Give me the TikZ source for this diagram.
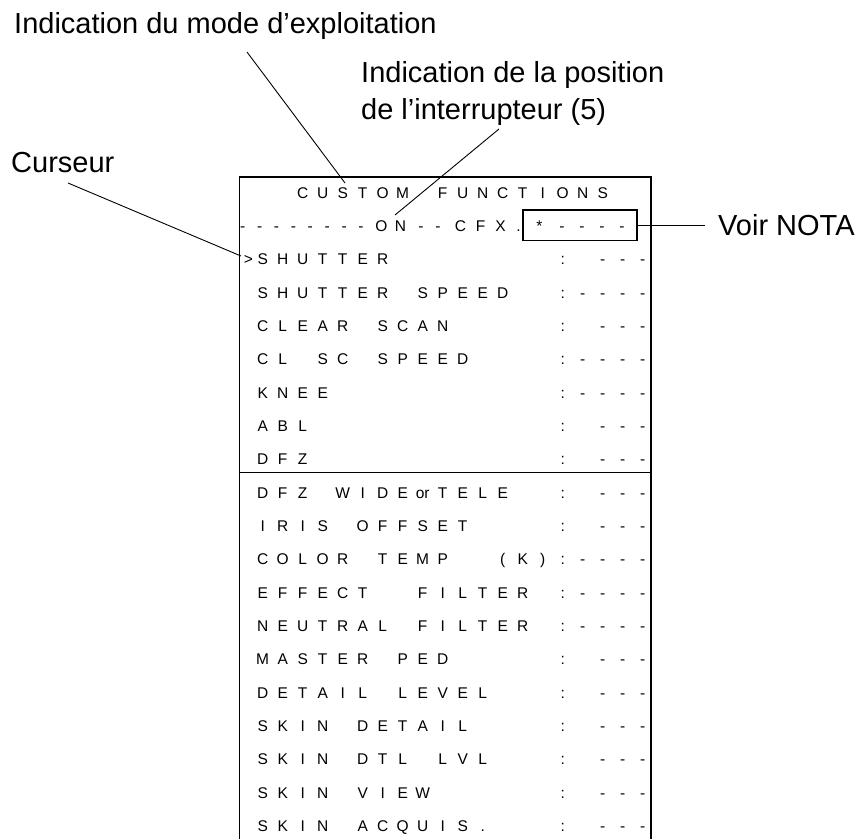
\documentclass[tikz,border=0pt]{standalone}
\usepackage{fontspec}
\setmainfont{Liberation Sans}
\def\cellw{20pt}
\def\cells#1{\cellsi#1\relax}
\def\cellsi#1{\ifx#1\relax\else\makebox[\cellw][c]{\cellchar#1}\expandafter\cellsi\fi}
\def\cellchar#1{\ifx#1_\else#1\fi}
\def\cellsx#1{\expandafter\cells\expandafter{#1}}
\def\OR{or}
\tikzset{
  lab/.style={font=\fontsize{29}{34}\selectfont, inner sep=0pt},
  menu/.style={font=\fontsize{15.5}{18}\selectfont, inner sep=0pt, anchor=base west},
  leader/.style={line width=0.9pt},
  frame/.style={line width=1.6pt},
}
\begin{document}
\begin{tikzpicture}[x=1pt,y=-1pt]
\useasboundingbox (0,0) rectangle (861,839);
% frame of the display
\draw[frame] (239.5,839) -- (239.5,177) -- (651,177) -- (651,839);
\draw[frame] (239.5,472.5) -- (651,472.5);
% title row
\node[menu] (title) at (232.5,198.3) {\cells{___CUSTOM_FUNCTIONS}};
% ON row
\foreach \x/\c [count=\i] in {242.7/-,259.6/-,276.5/-,293.4/-,310.3/-,327.2/-,344.1/-,361/-,
   381.5/O,400.5/N,421/-,438/-,460.5/C,480.5/F,500.5/X,518.5/.,539.5/*,562/-,582/-,602/-,622/-}
  \node[menu, anchor=base] (on\i) at (\x,231.6) {\c};
% NOTA box
\node[draw, line width=1.6pt, minimum width=114pt, minimum height=30.7pt, inner sep=0pt] (notabox) at (579.7,225.3) {};
% rows
\node[menu, anchor=base] (cursor) at (248.5,264.9) {>};
\foreach \k/\L/\R in {2/SHUTTER/:_---, 3/SHUTTER_SPEED/:----, 4/CLEAR_SCAN/:_---,
   5/CL_SC_SPEED/:----, 6/KNEE/:----, 7/ABL/:_---, 8/DFZ/:_---,
   9/DFZ_WIDE\OR TELE/:_---, 10/IRIS_OFFSET/:_---, 11/COLOR_TEMP__(K)/:----,
   12/EFFECT__FILTER/:----, 13/NEUTRAL_FILTER/:----, 14/MASTER_PED/:_---,
   15/DETAIL_LEVEL/:_---, 16/SKIN_DETAIL/:_---, 17/SKIN_DTL_LVL/:_---,
   18/SKIN_VIEW/:_---, 19/SKIN_ACQUIS./:_---}
{
  \pgfmathsetmacro\yb{192.7+33.33*\k+5.6}
  \node[menu] (L\k) at (252.5,\yb) {\cellsx{\L}};
  \node[menu] (R\k) at (552.5,\yb) {\cellsx{\R}};
}
% labels
\node[lab, anchor=base west] (mode) at (14,33) {Indication du mode d’exploitation};
\node[lab, anchor=base west] (pos1) at (361,82) {Indication de la position};
\node[lab, anchor=base west] (pos2) at (361,119) {de l’interrupteur (5)};
\node[lab, anchor=base west] (curs) at (11,172) {Curseur};
\node[lab, anchor=west, inner xsep=13pt] (voir) at (705,225.3) {Voir NOTA};
% leaders
\coordinate (mA) at (247,52);
\coordinate (mB) at (345,183);
\coordinate (pA) at (499,129);
\coordinate (pB) at (395,215);
\coordinate (cA) at (68,183);
\coordinate (cB) at (241,256);
\draw[leader] (mA) -- (mB);
\draw[leader] (pA) -- (pB);
\draw[leader] (cA) -- (cB);
\draw[leader, line width=1.2pt] (notabox.east) -- (voir.west);
\end{tikzpicture}
\end{document}
